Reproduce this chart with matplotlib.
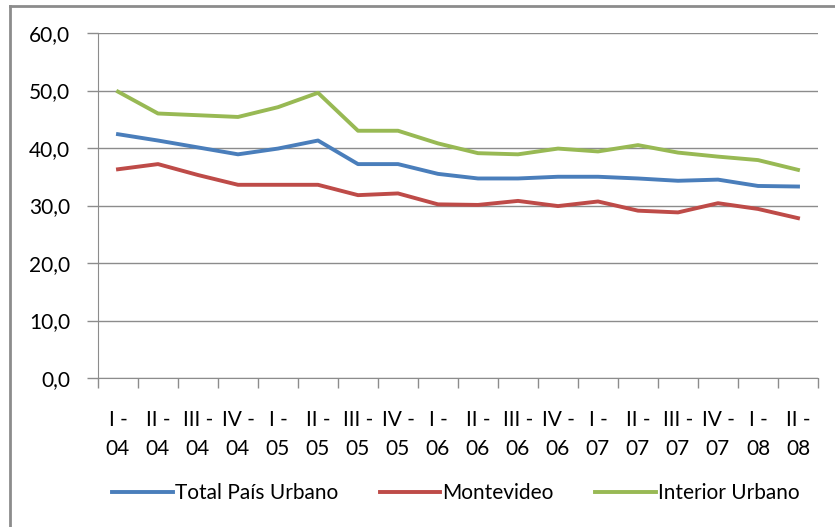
import matplotlib
matplotlib.use("Agg")
import matplotlib.pyplot as plt
from matplotlib.lines import Line2D
from matplotlib.ticker import FuncFormatter, MultipleLocator
import numpy as np

plt.rcParams['font.family'] = ['Lato', 'DejaVu Sans']

# trimestres
quarters = ['I -\n04', 'II -\n04', 'III -\n04', 'IV -\n04',
            'I -\n05', 'II -\n05', 'III -\n05', 'IV -\n05',
            'I -\n06', 'II -\n06', 'III -\n06', 'IV -\n06',
            'I -\n07', 'II -\n07', 'III -\n07', 'IV -\n07',
            'I -\n08', 'II -\n08']

total_pais = [42.4, 41.3, 40.1, 38.9, 39.9, 41.3, 37.2, 37.2, 35.5,
              34.7, 34.7, 35.0, 35.0, 34.7, 34.3, 34.5, 33.4, 33.3]
montevideo = [36.3, 37.2, 35.3, 33.6, 33.6, 33.6, 31.8, 32.1, 30.2,
              30.1, 30.8, 29.9, 30.7, 29.1, 28.8, 30.4, 29.4, 27.8]
interior = [49.8, 46.0, 45.7, 45.4, 47.1, 49.6, 43.0, 43.0, 40.8,
            39.1, 38.9, 39.9, 39.4, 40.5, 39.2, 38.5, 37.9, 36.2]

series_names = ['Total País Urbano', 'Montevideo', 'Interior Urbano']
colors = ['#4A7EBB', '#BE4B48', '#98B954']

fig = plt.figure(figsize=(8.35, 5.27), dpi=100)
ax = fig.add_axes([98 / 835, 1 - 378 / 527, 720 / 835, 345 / 527])

x = np.arange(len(quarters))
for vals, name, c in zip([total_pais, montevideo, interior], series_names, colors):
    ax.plot(x, vals, color=c, lw=2.8, label=name, solid_joinstyle='round')

ax.set_ylim(0, 60)
ax.set_xlim(-0.5, len(quarters) - 0.5)
ax.yaxis.set_major_locator(MultipleLocator(10))
ax.yaxis.set_major_formatter(FuncFormatter(lambda v, p: f'{v:.1f}'.replace('.', ',')))
ax.grid(axis='y', color='#8c8c8c', lw=1)
ax.set_axisbelow(True)

# etiquetas centradas, marcas entre categorias
ax.set_xticks(x)
ax.set_xticklabels(quarters, linespacing=1.55)
ax.set_xticks(np.arange(-0.5, len(quarters)), minor=True)
ax.tick_params(axis='x', which='major', length=0, pad=23, labelsize=15)
ax.tick_params(axis='x', which='minor', length=7, color='#8c8c8c', width=1)
ax.tick_params(axis='y', length=8, color='#8c8c8c', width=1, pad=12, labelsize=15)

for s in ['top', 'right']:
    ax.spines[s].set_visible(False)
ax.spines['left'].set_color('#8c8c8c')
ax.spines['bottom'].set_color('#8c8c8c')

ax.legend(loc='center', bbox_to_anchor=(0.546, 1 - 493 / 527), bbox_transform=fig.transFigure,
          ncol=3, frameon=False, fontsize=15, handlelength=2.9, handletextpad=0.1,
          columnspacing=2.0)

# marco del grafico
fig.add_artist(Line2D([10 / 835, 10 / 835], [0, 1 - 6 / 527], color='#8c8c8c', lw=2))
fig.add_artist(Line2D([10 / 835, 1], [1 - 6 / 527, 1 - 6 / 527], color='#8c8c8c', lw=2))

fig.savefig('out.png', dpi=100)
